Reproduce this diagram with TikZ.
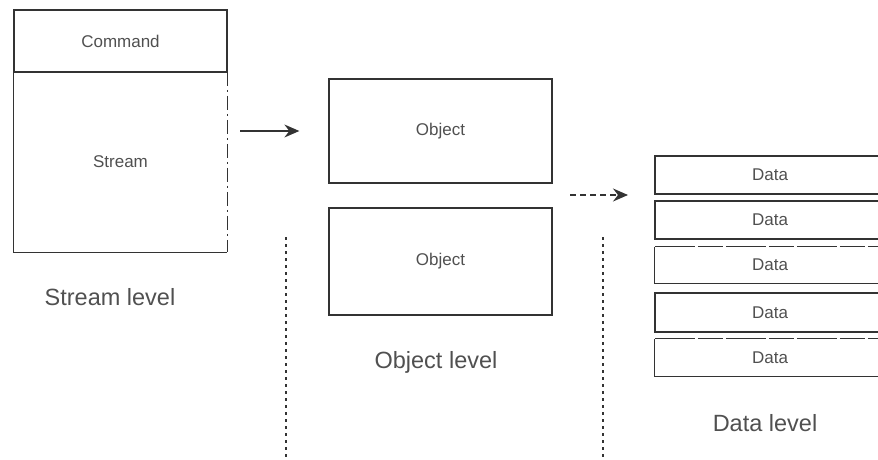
\documentclass[tikz,border=0pt]{standalone}
\usepackage{fontspec}
\setmainfont{Liberation Sans}
\usetikzlibrary{arrows.meta,calc}
\definecolor{ink}{HTML}{333333}
\definecolor{txt}{HTML}{505050}
\tikzset{
  box/.style={draw=ink, line width=1.3pt, rectangle, inner sep=0pt, text=txt, font=\fontsize{17}{20}\selectfont},
  plain/.style={rectangle, inner sep=0pt, text=txt, font=\fontsize{17}{20}\selectfont},
  lbl/.style={text=txt, font=\fontsize{23.5}{27}\selectfont, inner sep=0pt},
  sep/.style={draw=ink, line width=1.4pt, dash pattern=on 2.5pt off 4.5pt},
  edge/.style={draw=ink, line width=1.3pt},
  flow/.style={draw=ink, line width=1.3pt, -{Stealth[length=15pt, width=13pt, inset=5pt]}},
}
\begin{document}
\begin{tikzpicture}[x=1pt, y=-1pt]
\useasboundingbox (0,0) rectangle (878,460);
% stream level
\node[box, minimum width=213pt, minimum height=62pt] (cmd) at (120.5,41) {Command};
\node[plain, minimum width=213pt, minimum height=180pt] (stream) at (120.5,162) {Stream};
\draw[edge] (stream.north west) -- (stream.south west) -- (stream.south east);
\draw[edge, dash pattern=on 14pt off 4pt on 2pt off 4pt] (stream.north east) -- (stream.south east);
\node[lbl] (slvl) at (110,297) {Stream level};
% object level
\node[box, minimum width=223pt, minimum height=104pt] (obj1) at (440.5,131) {Object};
\node[box, minimum width=223pt, minimum height=107pt] (obj2) at (440.5,261.5) {Object};
\node[lbl] (olvl) at (436,362) {Object level};
% data level
\node[box, minimum width=230pt, minimum height=38pt] (d1) at (770,175) {Data};
\node[box, minimum width=230pt, minimum height=38pt] (d2) at (770,220) {Data};
\node[plain, minimum width=230pt, minimum height=36pt] (d3) at (770,265) {Data};
\node[box, minimum width=230pt, minimum height=39pt] (d4) at (770,312.5) {Data};
\node[plain, minimum width=230pt, minimum height=37pt] (d5) at (770,357.5) {Data};
\draw[edge, dash pattern=on 40pt off 3pt on 25pt off 3pt] (d3.north west) -- (d3.north east);
\draw[edge] (d3.north west) -- (d3.south west) -- (d3.south east);
\draw[edge, dash pattern=on 40pt off 3pt on 25pt off 3pt] (d5.north west) -- (d5.north east);
\draw[edge] (d5.north west) -- (d5.south west) -- (d5.south east);
\node[lbl] (dlvl) at (765,423) {Data level};
% separators
\coordinate (s1t) at (286,237);
\coordinate (s1b) at (286,460);
\coordinate (s2t) at (603,237);
\coordinate (s2b) at (603,460);
\draw[sep] (s1t) -- (s1b);
\draw[sep] (s2t) -- (s2b);
% arrows
\draw[flow, shorten <=13pt, shorten >=29pt] (stream.east |- obj1.west) -- (obj1.west);
\coordinate (a2s) at (570,195);
\coordinate (a2e) at (628,195);
\draw[flow, dash pattern=on 6pt off 4pt] (a2s) -- (a2e);
\end{tikzpicture}
\end{document}
